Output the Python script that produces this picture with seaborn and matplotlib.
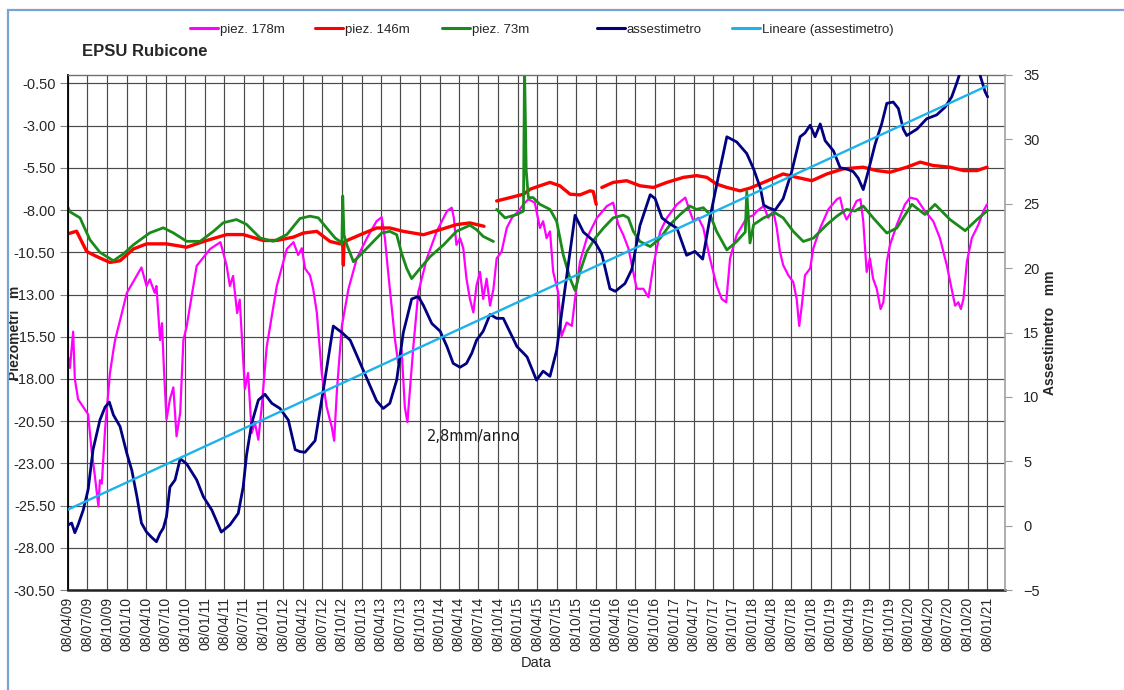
import numpy as np
import pandas as pd
import matplotlib
matplotlib.use("Agg")
import matplotlib.pyplot as plt
import matplotlib.dates as mdates
from matplotlib.lines import Line2D
from matplotlib.patches import Rectangle
from matplotlib.ticker import FormatStrFormatter
import seaborn as sns

# ---------------- data ----------------
# piezometer 178 m, level in m
p178_dates = ["2009-04-09", "2009-04-17", "2009-05-02", "2009-05-10", "2009-05-25", "2009-07-11",
              "2009-07-27", "2009-08-12", "2009-08-28", "2009-09-04", "2009-09-13", "2009-09-28",
              "2009-10-21", "2009-11-06", "2009-11-14", "2010-01-08", "2010-03-17", "2010-04-10",
              "2010-04-25", "2010-05-18", "2010-05-26", "2010-06-12", "2010-06-21", "2010-06-30",
              "2010-07-12", "2010-07-28", "2010-08-13", "2010-08-28", "2010-09-14", "2010-09-29",
              "2010-10-14", "2010-11-30", "2011-02-01", "2011-03-21", "2011-04-19", "2011-05-04",
              "2011-05-19", "2011-06-07", "2011-06-19", "2011-07-05", "2011-07-13", "2011-07-28",
              "2011-08-14", "2011-08-29", "2011-09-14", "2011-09-30", "2011-10-23", "2011-12-09",
              "2012-01-25", "2012-02-25", "2012-03-18", "2012-04-04", "2012-04-19", "2012-05-12",
              "2012-05-27", "2012-06-13", "2012-07-06", "2012-07-29", "2012-08-22", "2012-09-02",
              "2012-09-15", "2012-10-08", "2012-11-08", "2012-12-17", "2013-02-02", "2013-03-19",
              "2013-04-12", "2013-04-27", "2013-05-12", "2013-05-28", "2013-06-13", "2013-06-28",
              "2013-07-14", "2013-07-29", "2013-08-10", "2013-08-22", "2013-09-07", "2013-09-30",
              "2013-11-09", "2013-12-25", "2014-02-11", "2014-03-05", "2014-03-15", "2014-03-27",
              "2014-04-13", "2014-04-28", "2014-05-13", "2014-05-29", "2014-06-14", "2014-06-29",
              "2014-07-15", "2014-07-30", "2014-08-15", "2014-08-31", "2014-09-16", "2014-10-01",
              "2014-10-24", "2014-11-17", "2014-12-11", "2015-01-11", "2015-02-03", "2015-02-26",
              "2015-03-28", "2015-04-21", "2015-05-06", "2015-05-22", "2015-06-07", "2015-06-22",
              "2015-07-15", "2015-07-31", "2015-08-24", "2015-09-17", "2015-10-02", "2015-10-25",
              "2015-11-26", "2016-01-12", "2016-02-28", "2016-03-28", "2016-04-21", "2016-05-14",
              "2016-06-07", "2016-06-30", "2016-07-16", "2016-08-16", "2016-09-09", "2016-10-02",
              "2016-11-03", "2016-12-04", "2017-01-20", "2017-02-28", "2017-03-21", "2017-04-07",
              "2017-04-30", "2017-05-23", "2017-06-23", "2017-07-24", "2017-08-17", "2017-09-07",
              "2017-09-25", "2017-10-26", "2017-12-12", "2018-01-13", "2018-01-28", "2018-03-01",
              "2018-03-22", "2018-04-15", "2018-05-01", "2018-05-16", "2018-05-31", "2018-06-24",
              "2018-07-17", "2018-08-02", "2018-08-14", "2018-08-26", "2018-09-10", "2018-10-04",
              "2018-10-19", "2018-11-20", "2018-12-28", "2019-02-06", "2019-02-21", "2019-03-07",
              "2019-03-23", "2019-04-16", "2019-05-09", "2019-05-27", "2019-06-09", "2019-06-25",
              "2019-07-10", "2019-07-25", "2019-08-11", "2019-08-29", "2019-09-11", "2019-09-27",
              "2019-10-12", "2019-11-13", "2019-12-21", "2020-01-14", "2020-02-15", "2020-03-23",
              "2020-05-01", "2020-06-01", "2020-07-03", "2020-07-26", "2020-08-11", "2020-08-26",
              "2020-09-07", "2020-09-19", "2020-10-05", "2020-10-28", "2020-11-28", "2020-12-21",
              "2021-01-07"]
p178_m = [-16.7, -17.35, -15.2, -18.0, -19.2, -20.1,
          -22.2, -23.8, -25.55, -24.0, -24.2, -21.0,
          -17.65, -16.3, -15.7, -12.9, -11.4, -12.5,
          -12.1, -12.9, -12.5, -15.7, -14.7, -17.4,
          -20.4, -19.2, -18.5, -21.4, -20.0, -15.7,
          -14.9, -11.3, -10.3, -9.9, -11.3, -12.5,
          -11.9, -14.1, -13.3, -16.9, -18.6, -17.65,
          -21.2, -20.6, -21.6, -19.6, -16.1, -12.5,
          -10.3, -9.9, -10.66, -10.26, -11.46, -11.86,
          -12.66, -14.06, -17.66, -19.66, -20.86, -21.66,
          -18.66, -14.86, -12.66, -10.86, -9.66, -8.66,
          -8.42, -9.66, -11.66, -13.66, -15.66, -17.06,
          -16.26, -19.66, -20.56, -18.66, -16.06, -12.86,
          -10.86, -9.26, -8.06, -7.86, -8.46, -10.06,
          -9.66, -10.26, -12.06, -13.26, -14.06, -12.46,
          -11.66, -13.26, -12.06, -13.66, -12.66, -10.86,
          -10.46, -9.06, -8.46, -8.06, -7.66, -7.36,
          -7.56, -9.06, -8.66, -9.66, -9.26, -11.66,
          -12.86, -15.46, -14.66, -14.86, -13.26, -11.06,
          -9.66, -8.46, -7.76, -7.56, -8.86, -9.46,
          -10.26, -11.66, -12.66, -12.66, -13.16, -11.26,
          -9.26, -8.46, -7.66, -7.26, -8.06, -8.66,
          -8.46, -9.06, -10.86, -12.46, -13.26, -13.46,
          -10.86, -9.46, -8.46, -8.3, -8.06, -7.76,
          -8.46, -8.06, -9.06, -10.46, -11.26, -11.86,
          -12.26, -13.26, -14.86, -13.66, -11.86, -11.46,
          -10.26, -9.06, -7.96, -7.36, -7.26, -8.06,
          -8.56, -8.06, -7.46, -7.36, -8.66, -11.66,
          -10.86, -12.06, -12.66, -13.86, -13.46, -11.06,
          -10.06, -8.86, -7.66, -7.26, -7.36, -8.06,
          -8.66, -9.66, -11.26, -12.66, -13.66, -13.46,
          -13.86, -13.26, -11.06, -9.66, -8.86, -8.06,
          -7.66]

# piezometer 146 m, level in m (NaN = no readings)
p146_dates = ["2009-04-09", "2009-05-18", "2009-07-04", "2009-08-20", "2009-10-21", "2009-12-07",
              "2010-02-08", "2010-04-10", "2010-07-12", "2010-10-14", "2011-01-16", "2011-04-19",
              "2011-07-05", "2011-10-07", "2011-12-09", "2012-02-25", "2012-04-11", "2012-06-13",
              "2012-08-14", "2012-09-30", "2012-10-12", "2012-10-15", "2012-10-18", "2012-11-08",
              "2013-01-02", "2013-03-19", "2013-05-20", "2013-07-22", "2013-10-24", "2014-01-10",
              "2014-03-27", "2014-05-29", "2014-08-03", "2014-08-20", "2014-10-01", "2014-12-03",
              "2015-02-03", "2015-03-07", "2015-04-21", "2015-06-07", "2015-07-23", "2015-09-09",
              "2015-10-25", "2015-12-11", "2015-12-26", "2016-01-09", "2016-01-20", "2016-02-04",
              "2016-03-28", "2016-05-30", "2016-07-31", "2016-10-02", "2016-12-04", "2017-02-20",
              "2017-04-22", "2017-06-08", "2017-07-24", "2017-09-10", "2017-11-11", "2017-12-27",
              "2018-03-01", "2018-05-31", "2018-08-02", "2018-10-12", "2018-12-21", "2019-03-07",
              "2019-06-09", "2019-08-11", "2019-10-12", "2019-12-29", "2020-03-01", "2020-05-01",
              "2020-07-18", "2020-09-19", "2020-11-21", "2021-01-07"]
p146_m = [-9.4, -9.25, -10.45, -10.75, -11.1, -11.0,
          -10.3, -10.0, -10.0, -10.2, -9.8, -9.45,
          -9.45, -9.8, -9.8, -9.6, -9.36, -9.26,
          -9.86, -10.0, -10.0, -11.26, -9.9, -9.76,
          -9.46, -9.06, -9.06, -9.26, -9.46, -9.16,
          -8.86, -8.76, -8.96, np.nan, -7.46, -7.26,
          -7.06, -6.76, -6.56, -6.36, -6.56, -7.06,
          -7.1, -6.86, -6.9, -7.66, np.nan, -6.66,
          -6.36, -6.26, -6.56, -6.66, -6.36, -6.06,
          -5.96, -6.06, -6.46, -6.66, -6.86, -6.7,
          -6.36, -5.86, -6.06, -6.26, -5.86, -5.56,
          -5.46, -5.66, -5.76, -5.46, -5.16, -5.36,
          -5.46, -5.66, -5.66, -5.46]

# piezometer 73 m, level in m (NaN = no readings)
p73_dates = ["2009-04-09", "2009-04-17", "2009-06-03", "2009-07-19", "2009-09-04", "2009-11-06",
             "2009-12-22", "2010-02-08", "2010-04-25", "2010-06-27", "2010-08-13", "2010-10-14",
             "2010-12-16", "2011-02-17", "2011-04-03", "2011-06-04", "2011-07-21", "2011-09-22",
             "2011-11-23", "2012-01-25", "2012-03-26", "2012-05-12", "2012-06-20", "2012-07-29",
             "2012-09-07", "2012-09-30", "2012-10-08", "2012-10-12", "2012-10-18", "2012-10-31",
             "2012-11-16", "2012-12-01", "2013-01-10", "2013-03-04", "2013-04-12", "2013-05-20",
             "2013-06-21", "2013-07-14", "2013-08-07", "2013-08-30", "2013-10-08", "2013-11-24",
             "2014-01-26", "2014-03-27", "2014-05-29", "2014-06-29", "2014-07-30", "2014-09-16",
             "2014-09-24", "2014-10-01", "2014-11-09", "2015-01-04", "2015-02-03", "2015-02-08",
             "2015-02-16", "2015-02-26", "2015-03-20", "2015-04-21", "2015-06-07", "2015-07-08",
             "2015-08-08", "2015-09-09", "2015-10-02", "2015-10-25", "2015-11-26", "2016-01-04",
             "2016-02-12", "2016-03-28", "2016-05-14", "2016-06-07", "2016-06-30", "2016-07-31",
             "2016-09-17", "2016-11-03", "2016-12-19", "2017-02-04", "2017-03-21", "2017-04-22",
             "2017-05-23", "2017-06-23", "2017-07-24", "2017-09-10", "2017-10-26", "2017-12-05",
             "2017-12-12", "2017-12-27", "2018-01-13", "2018-03-01", "2018-04-23", "2018-05-31",
             "2018-07-17", "2018-09-02", "2018-10-19", "2018-12-21", "2019-02-06", "2019-03-23",
             "2019-05-01", "2019-06-09", "2019-07-25", "2019-09-27", "2019-11-13", "2020-01-22",
             "2020-03-23", "2020-05-09", "2020-07-18", "2020-09-27", "2020-11-21", "2021-01-10"]
p73_m = [-7.87, -8.1, -8.46, -9.75, -10.5, -11.0,
         -10.6, -10.05, -9.35, -9.05, -9.35, -9.85,
         -9.85, -9.25, -8.75, -8.56, -8.85, -9.65,
         -9.85, -9.45, -8.5, -8.36, -8.46, -9.06,
         -9.66, -9.86, -10.0, -7.16, -9.46, -10.06,
         -10.56, -11.06, -10.56, -9.86, -9.36, -9.26,
         -9.46, -10.56, -11.46, -12.06, -11.46, -10.76,
         -10.06, -9.26, -8.9, -9.16, -9.56, -9.86,
         np.nan, -7.96, -8.46, -8.26, -8.06, 0.5,
         -5.66, -7.26, -7.26, -7.66, -7.96, -8.66,
         -10.66, -12.06, -12.76, -11.66, -10.46, -9.66,
         -9.06, -8.46, -8.3, -8.46, -9.26, -9.86,
         -10.16, -9.66, -8.86, -8.26, -7.76, -7.96,
         -7.86, -8.26, -9.26, -10.36, -9.86, -9.3,
         -6.9, -9.95, -8.86, -8.46, -8.16, -8.46,
         -9.26, -9.86, -9.66, -8.86, -8.36, -7.96,
         -8.06, -7.76, -8.46, -9.36, -9.06, -7.66,
         -8.26, -7.66, -8.56, -9.22, -8.56, -8.02]

# settlement gauge (assestimetro), mm
asse_dates = ["2009-04-09", "2009-04-25", "2009-05-10", "2009-05-25", "2009-06-18", "2009-07-11",
              "2009-08-03", "2009-09-04", "2009-09-28", "2009-10-18", "2009-11-06", "2009-12-07",
              "2010-01-08", "2010-01-31", "2010-02-24", "2010-03-17", "2010-04-10", "2010-05-03",
              "2010-05-26", "2010-06-12", "2010-06-27", "2010-07-12", "2010-07-28", "2010-08-21",
              "2010-09-14", "2010-10-14", "2010-11-30", "2010-12-31", "2011-02-09", "2011-03-25",
              "2011-05-04", "2011-06-12", "2011-07-05", "2011-07-21", "2011-08-14", "2011-09-14",
              "2011-10-15", "2011-11-16", "2011-12-24", "2012-02-01", "2012-03-04", "2012-03-26",
              "2012-04-19", "2012-06-05", "2012-07-13", "2012-08-29", "2012-10-08", "2012-11-16",
              "2013-01-02", "2013-02-18", "2013-03-19", "2013-04-19", "2013-05-20", "2013-06-21",
              "2013-07-22", "2013-08-30", "2013-09-30", "2013-10-24", "2013-12-02", "2014-01-10",
              "2014-02-11", "2014-03-12", "2014-04-13", "2014-05-13", "2014-06-07", "2014-06-29",
              "2014-07-30", "2014-08-31", "2014-10-01", "2014-11-01", "2014-12-03", "2015-01-04",
              "2015-02-03", "2015-02-20", "2015-04-05", "2015-05-06", "2015-06-07", "2015-07-08",
              "2015-08-16", "2015-10-02", "2015-11-10", "2016-01-04", "2016-02-04", "2016-03-13",
              "2016-04-07", "2016-05-22", "2016-06-23", "2016-07-31", "2016-09-17", "2016-10-10",
              "2016-11-11", "2016-12-12", "2017-01-20", "2017-03-06", "2017-04-14", "2017-05-20",
              "2017-06-23", "2017-07-31", "2017-09-10", "2017-10-26", "2017-12-12", "2018-01-13",
              "2018-02-14", "2018-03-01", "2018-03-22", "2018-04-23", "2018-05-31", "2018-07-10",
              "2018-08-18", "2018-09-10", "2018-10-04", "2018-10-27", "2018-11-20", "2018-12-13",
              "2019-01-21", "2019-02-21", "2019-03-23", "2019-04-23", "2019-05-16", "2019-06-09",
              "2019-07-02", "2019-08-03", "2019-09-03", "2019-09-27", "2019-10-27", "2019-11-20",
              "2019-12-13", "2019-12-29", "2020-02-15", "2020-03-31", "2020-05-17", "2020-06-25",
              "2020-07-26", "2020-08-19", "2020-09-19", "2020-11-21", "2020-12-07", "2020-12-29",
              "2021-01-10"]
asse_mm = [0.05, 0.2, -0.55, 0.05, 1.2, 2.8,
           5.9, 8.2, 9.2, 9.6, 8.6, 7.7,
           5.6, 4.3, 2.25, 0.2, -0.5, -0.9,
           -1.25, -0.6, -0.2, 0.7, 3.0, 3.55,
           5.2, 4.8, 3.55, 2.25, 1.2, -0.5,
           0.05, 0.95, 3.0, 5.5, 7.95, 9.75,
           10.2, 9.5, 9.1, 8.2, 5.9, 5.75,
           5.7, 6.6, 10.5, 15.5, 15.0, 14.4,
           12.6, 10.8, 9.7, 9.1, 9.5, 11.3,
           15.0, 17.6, 17.8, 17.1, 15.7, 15.1,
           13.9, 12.6, 12.3, 12.6, 13.4, 14.4,
           15.1, 16.4, 16.1, 16.1, 15.0, 13.9,
           13.4, 13.1, 11.3, 12.0, 11.6, 13.6,
           18.4, 24.1, 22.8, 22.0, 21.1, 18.4,
           18.2, 18.8, 19.9, 23.3, 25.7, 25.4,
           23.9, 23.5, 23.1, 21.0, 21.3, 20.7,
           23.9, 27.0, 30.2, 29.8, 28.9, 27.7,
           26.2, 24.9, 24.7, 24.5, 25.4, 27.5,
           30.2, 30.5, 31.1, 30.2, 31.2, 29.9,
           29.1, 27.8, 27.7, 27.5, 27.0, 26.1,
           27.5, 29.6, 31.2, 32.8, 32.9, 32.4,
           30.8, 30.3, 30.8, 31.6, 31.9, 32.5,
           33.3, 34.4, 36.0, 35.8, 34.9, 33.7,
           33.3]

# linear trend of the settlement gauge
trend_rate = 2.8        # mm/anno
trend_origin = 1.25     # mm at the first reading
trend_span = ["2009-04-08", "2021-01-08"]

series_names = ["piez. 178m", "piez. 146m", "piez. 73m", "assestimetro", "Lineare (assestimetro)"]
series_colors = ["#ff00ff", "#ff0000", "#1a8a1a", "#000080", "#1cb2ea"]

piez_ticks = np.arange(-30.5, 0.0, 2.5)
asse_ticks = np.arange(-5, 36, 5)

# ---------------- style ----------------
sns.set_style("white")
plt.rcParams["font.family"] = ["Liberation Sans", "DejaVu Sans"]
plt.rcParams["axes.axisbelow"] = True


def frame(dates, values):
    df = pd.DataFrame({"date": pd.to_datetime(dates), "value": np.asarray(values, dtype=float)})
    df["piece"] = df["value"].isna().cumsum()
    return df.dropna()


def draw(ax, dates, values, color, lw):
    sns.lineplot(data=frame(dates, values), x="date", y="value", units="piece",
                 estimator=None, color=color, linewidth=lw, ax=ax, legend=False)


fig = plt.figure(figsize=(11.24, 6.9), dpi=100)
ax = fig.add_axes([68 / 1124, 1 - 590 / 690, (1005 - 68) / 1124, (590 - 75) / 690])
ax2 = ax.twinx()

draw(ax, p178_dates, p178_m, series_colors[0], 1.6)
draw(ax, p146_dates, p146_m, series_colors[1], 2.4)
draw(ax, p73_dates, p73_m, series_colors[2], 2.0)
draw(ax2, asse_dates, asse_mm, series_colors[3], 2.0)

trend_t = pd.to_datetime(trend_span)
trend_years = (trend_t - trend_t[0]).days / 365.25
trend_vals = trend_origin + trend_rate * np.asarray(trend_years)
sns.lineplot(x=trend_t, y=trend_vals, color=series_colors[4], linewidth=1.7, ax=ax2)

# ---------------- axes ----------------
quarters = pd.date_range("2009-04-08", "2021-01-08", freq=pd.DateOffset(months=3))
ax.set_xlim(pd.Timestamp("2009-04-08"), pd.Timestamp("2021-04-01"))
ax.set_xticks(quarters)
ax.xaxis.set_major_formatter(mdates.DateFormatter("%d/%m/%y"))
ax.tick_params(axis="x", labelrotation=90, labelsize=10, length=3, color="#555555", pad=2)

ax.set_ylim(-30.5, 0.0)
ax.set_yticks(piez_ticks)
ax.yaxis.set_major_formatter(FormatStrFormatter("%.2f"))
ax.tick_params(axis="y", labelsize=10.5, length=6, color="#808080", pad=3)

ax2.set_ylim(-5, 35)
ax2.set_yticks(asse_ticks)
ax2.tick_params(axis="y", labelsize=10.5, length=5, color="#9a9a9a", pad=8)

ax.grid(True, color="#4a4a4a", linewidth=0.85)
ax2.grid(False)

for side in ["left", "top", "bottom"]:
    ax2.spines[side].set_visible(False)
ax.spines["right"].set_visible(False)
ax.spines["left"].set_color("black")
ax.spines["left"].set_linewidth(1.3)
ax.spines["bottom"].set_color("#222222")
ax.spines["bottom"].set_linewidth(1.8)
ax.spines["top"].set_color("#707070")
ax.spines["top"].set_linewidth(1.0)
ax2.spines["right"].set_color("#a0a0a0")
ax2.spines["right"].set_linewidth(1.2)

ax.set_xlabel("Data", fontsize=10.5)
ax.xaxis.set_label_coords(0.5, -0.128)
ax.set_ylabel("Piezometri   m", fontsize=10, fontweight="bold")
ax.yaxis.set_label_coords(-0.049, 0.5)
ax2.set_ylabel("Assestimetro   mm", fontsize=10, fontweight="bold")
ax2.yaxis.set_label_coords(1.0405, 0.5)

# slope annotation
ax2.text(pd.Timestamp("2013-11-09"), 6.9,
         f"{trend_rate:.1f}".replace(".", ",") + "mm/anno",
         fontsize=10.5, family="DejaVu Sans", color="#1a1a1a", va="center", ha="left")

# title
fig.text(82 / 1124, 1 - 52 / 690, "EPSU Rubicone", fontsize=12, fontweight="bold", va="center")

# legend: one entry per slot along the top row
legend_left_px = [190, 315, 442, 597, 732]
for name, color, left in zip(series_names, series_colors, legend_left_px):
    leg = fig.legend([Line2D([], [], color=color, linewidth=2.2)], [name],
                     loc="center left", bbox_to_anchor=(left / 1124, 1 - 30 / 690),
                     frameon=False, fontsize=9.5, handlelength=2.1, handletextpad=0.15,
                     borderpad=0, borderaxespad=0)

# outer frame
fig.add_artist(Rectangle((7.5 / 1124, -0.1), 1.2, 1.1 - 10 / 690, transform=fig.transFigure,
                         fill=False, edgecolor="#7aa2d6", linewidth=1.6, clip_on=False))

fig.savefig("out.png", dpi=100)
